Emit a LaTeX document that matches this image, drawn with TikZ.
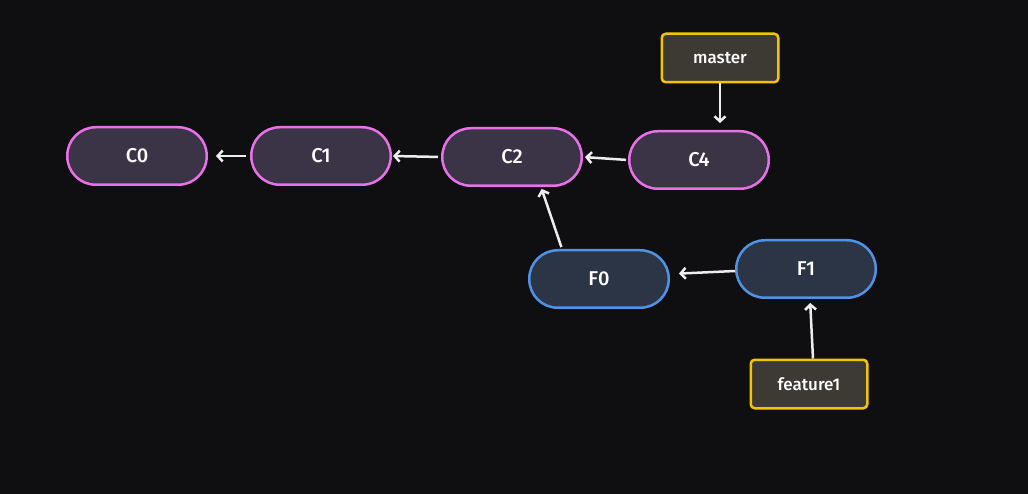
\documentclass[tikz,border=0pt]{standalone}
\usepackage{fontspec}
\setmainfont{Fira Sans}[UprightFont=* Medium]
\usetikzlibrary{arrows.meta}
\definecolor{bgdark}{RGB}{15,15,17}
\definecolor{mainline}{RGB}{232,112,232}
\definecolor{mainfill}{RGB}{59,51,70}
\definecolor{featline}{RGB}{80,146,230}
\definecolor{featfill}{RGB}{43,53,70}
\definecolor{refline}{RGB}{245,196,0}
\definecolor{reffill}{RGB}{60,58,50}
\begin{document}
\begin{tikzpicture}[x=1pt,y=-1pt,>={Straight Barb[length=5pt,width=11pt]}]
        \tikzstyle{commit}=[rectangle,rounded corners=28.5pt,line width=2.5pt,minimum width=139.5pt,minimum height=57.5pt,text=white,font=\fontsize{20}{23}\selectfont]
        \tikzstyle{maincommit}=[commit,draw=mainline,fill=mainfill]
        \tikzstyle{featcommit}=[commit,draw=featline,fill=featfill]
        \tikzstyle{branch}=[rectangle,rounded corners=4pt,line width=2.5pt,draw=refline,fill=reffill,minimum width=116.5pt,minimum height=48.5pt,text=white,font=\fontsize{17}{20}\selectfont]
        \tikzstyle{edge}=[->,draw=white!93!black,line width=2.5pt]
       \fill[bgdark] (0,0) rectangle (1028,494);
       \begin{scope}
         \node [maincommit] (c0) at (137,156) {C0};
         \node [maincommit] (c1) at (321,156) {C1};
         \node [maincommit] (c2) at (512,157) {C2};
         \node [maincommit] (c4) at (699,160) {C4};
         \node [featcommit] (f0) at (599,279) {F0};
         \node [featcommit] (f1) at (806,269) {F1};
         \node [branch] (master) at (720,58) {master};
         \node [branch] (feature1) at (809,384) {feature1};
         \path (master.south) edge [edge,shorten >=7pt] (master.south |- c4.north);
         \path (c4.west) edge [edge,shorten <=2pt,shorten >=2pt] (c2.east);
         \path (c2.west) edge [edge,shorten <=3pt,shorten >=1pt] (c1.east);
         \path (c1.west) edge [edge,shorten <=4pt,shorten >=8pt] (c0.east);
         \path ([xshift=-37pt]f0.north) edge [edge,shorten <=2pt,shorten >=2pt] ([xshift=29pt]c2.south);
         \path ([yshift=-2pt]f1.west) edge [edge,shorten >=9pt] ([yshift=5pt]f0.east);
         \path ([xshift=4pt]feature1.north) edge [edge,shorten >=4pt] ([xshift=4pt]f1.south);
        \end{scope}
      \end{tikzpicture}
\end{document}
